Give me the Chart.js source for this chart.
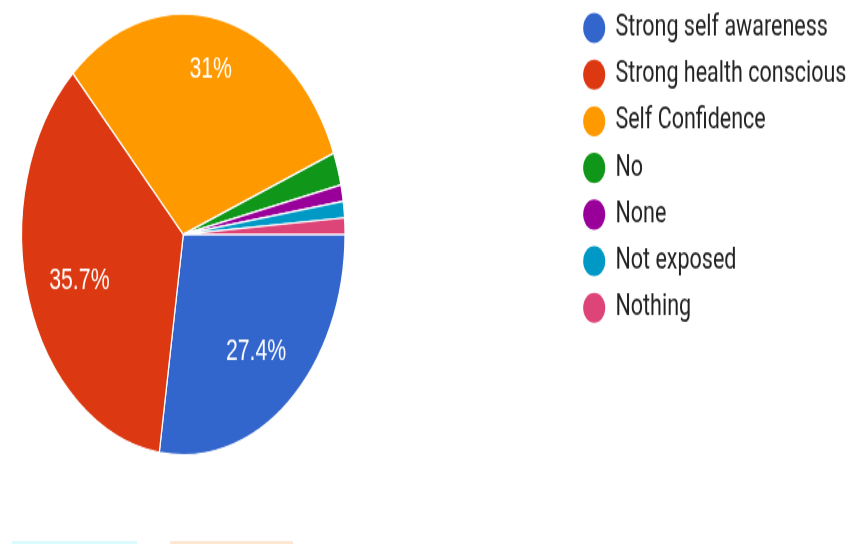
<!DOCTYPE html>
<html><head><meta charset="utf-8">
<script src="https://cdn.jsdelivr.net/npm/chart.js@4/dist/chart.umd.min.js"></script>
<style>
html,body{margin:0;padding:0;background:#fff;overflow:hidden;width:846px;height:544px;}
#wrap{position:absolute;left:0;top:0;width:846px;height:399px;transform-origin:0 0;transform:scaleY(1.3634);}
#c{display:block;}
.strip{position:absolute;height:3px;top:541px;}
</style></head><body>
<div id="wrap"><canvas id="c" width="846" height="399"></canvas></div>
<div class="strip" style="left:12px;width:125px;background:#dcfbfd"></div>
<div class="strip" style="left:170px;width:123px;background:#ffe8d2"></div>
<script>
const categories = ["Strong self awareness","Strong health conscious","Self Confidence","No","None","Not exposed","Nothing"];
const values = [27.4, 35.7, 31, 2.4, 1.2, 1.2, 1.2];
const colors = ["#3366cc","#dc3912","#ff9900","#109618","#990099","#0099c6","#dd4477"];

const labelRadius = [0.69, 0.673, 0.773, 0.7, 0.7, 0.7, 0.7];

const placement = {
  id: 'placement',
  afterLayout(chart) {
    const a = chart.chartArea;
    const cx = 183.3, cy = 171.9, r = 162.3;
    a.left = cx - r; a.right = cx + r; a.top = cy - r; a.bottom = cy + r;
    a.width = 2 * r; a.height = 2 * r;
  },
  beforeDraw(chart) {
    const lg = chart.legend;
    lg.left = 571; lg.top = -2.9; lg.right = 846; lg.bottom = 399;
    lg.width = lg.right - lg.left; lg.height = lg.bottom - lg.top;
  }
};

const sliceLabels = {
  id: 'sliceLabels',
  afterDatasetsDraw(chart) {
    const ctx = chart.ctx;
    const meta = chart.getDatasetMeta(0);
    ctx.save();
    ctx.fillStyle = '#ffffff';
    ctx.font = '21.3px "Liberation Sans", Arial, sans-serif';
    ctx.textAlign = 'center';
    ctx.textBaseline = 'alphabetic';
    meta.data.forEach((arc, i) => {
      if (values[i] < 5) return;
      const p = arc.getProps(['x','y','startAngle','endAngle','outerRadius'], true);
      const mid = (p.startAngle + p.endAngle) / 2;
      const rr = p.outerRadius * labelRadius[i];
      const txt = (Math.round(values[i] * 10) / 10).toString() + '%';
      const m = ctx.measureText('0');
      const off = m.actualBoundingBoxAscent / 2;
      ctx.fillText(txt, p.x + Math.cos(mid) * rr, p.y + Math.sin(mid) * rr + off);
    });
    ctx.restore();
  }
};

const defaultGen = Chart.overrides.pie.plugins.legend.labels.generateLabels;

new Chart(document.getElementById('c'), {
  type: 'pie',
  data: {
    labels: categories,
    datasets: [{
      data: values,
      backgroundColor: colors,
      borderColor: '#ffffff',
      borderWidth: 1.2
    }]
  },
  options: {
    responsive: false,
    animation: false,
    rotation: 90,
    plugins: {
      tooltip: { enabled: false },
      legend: {
        position: 'right',
        align: 'start',
        labels: {
          usePointStyle: true,
          pointStyle: 'circle',
          boxWidth: 21,
          boxHeight: 15.6,
          padding: 12.7,
          color: '#222222',
          font: { family: 'Roboto', size: 21.5 },
          generateLabels(chart) {
            return defaultGen(chart).map(it => Object.assign(it, { lineWidth: 0, strokeStyle: 'rgba(0,0,0,0)' }));
          }
        }
      }
    }
  },
  plugins: [placement, sliceLabels]
});
</script>
</body></html>
